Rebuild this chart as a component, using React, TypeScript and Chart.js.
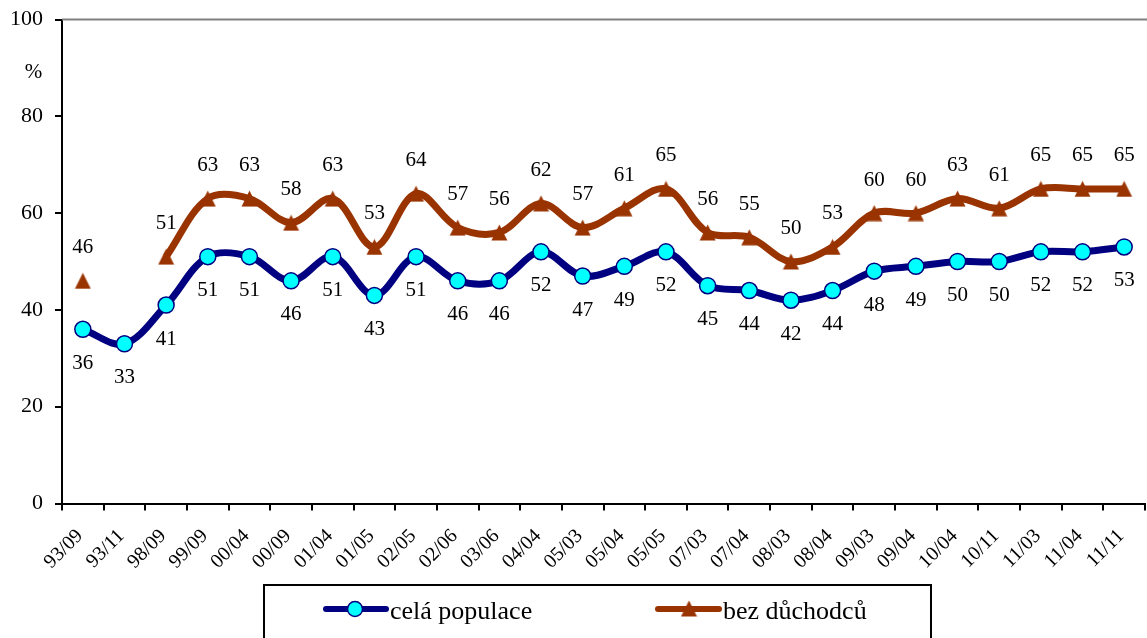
import React, { useEffect, useRef } from "react";
import { Chart, registerables } from "chart.js";

Chart.register(...registerables);

const categories = ["93/09", "93/11", "98/09", "99/09", "00/04", "00/09", "01/04", "01/05", "02/05", "02/06", "03/06", "04/04", "05/03", "05/04", "05/05", "07/03", "07/04", "08/03", "08/04", "09/03", "09/04", "10/04", "10/11", "11/03", "11/04", "11/11"];
const celaPopulace = [36, 33, 41, 51, 51, 46, 51, 43, 51, 46, 46, 52, 47, 49, 52, 45, 44, 42, 44, 48, 49, 50, 50, 52, 52, 53];
const bezDuchodcu: (number | null)[] = [46, null, 51, 63, 63, 58, 63, 53, 64, 57, 56, 62, 57, 61, 65, 56, 55, 50, 53, 60, 60, 63, 61, 65, 65, 65];
const seriesNames = ["celá populace", "bez důchodců"];
const yAxisUnit = "%";

const NAVY = "#000080";
const CYAN = "#00FFFF";
const BROWN = "#993300";
const SERIF = "'Liberation Serif', 'Times New Roman', serif";

function makeTriangle(size: number, color: string) {
  const c = document.createElement("canvas");
  c.width = size;
  c.height = size;
  const ctx = c.getContext("2d")!;
  ctx.fillStyle = color;
  ctx.beginPath();
  ctx.moveTo(size / 2, 0.5);
  ctx.lineTo(size - 0.5, size - 0.5);
  ctx.lineTo(0.5, size - 0.5);
  ctx.closePath();
  ctx.fill();
  return c;
}

export default function App() {
  const ref = useRef<HTMLCanvasElement | null>(null);

  useEffect(() => {
    if (!ref.current) return;
    const tri = makeTriangle(17, BROWN);

    const decorPlugin = {
      id: "decor",
      beforeDatasetsDraw(chart: any) {
        const { ctx, chartArea } = chart;
        ctx.save();
        ctx.strokeStyle = "#808080";
        ctx.lineWidth = 2;
        ctx.beginPath();
        ctx.moveTo(chartArea.left, chartArea.top);
        ctx.lineTo(chart.width, chartArea.top);
        ctx.stroke();
        ctx.fillStyle = "#000";
        ctx.font = `21px ${SERIF}`;
        ctx.textAlign = "center";
        ctx.textBaseline = "middle";
        ctx.fillText(yAxisUnit, 33.5, 72);
        ctx.restore();
      },
      afterDatasetsDraw(chart: any) {
        const { ctx } = chart;
        ctx.save();
        ctx.fillStyle = "#000";
        ctx.font = `21px ${SERIF}`;
        ctx.textAlign = "center";
        ctx.textBaseline = "middle";
        chart.data.datasets.forEach((ds: any, di: number) => {
          const meta = chart.getDatasetMeta(di);
          meta.data.forEach((pt: any, i: number) => {
            const v = ds.data[i];
            if (v === null || v === undefined) return;
            const dy = di === 0 ? 34 : -33;
            ctx.fillText(String(v), pt.x, pt.y + dy);
          });
        });
        ctx.restore();
      },
      afterDraw(chart: any) {
        const { ctx } = chart;
        ctx.save();
        ctx.strokeStyle = "#000";
        ctx.lineWidth = 2;
        ctx.strokeRect(264, 585, 667, 70);
        const ly = 609;
        ctx.lineCap = "round";
        ctx.strokeStyle = NAVY;
        ctx.lineWidth = 6;
        ctx.beginPath();
        ctx.moveTo(326, ly);
        ctx.lineTo(386, ly);
        ctx.stroke();
        ctx.beginPath();
        ctx.arc(355, ly, 7.5, 0, Math.PI * 2);
        ctx.fillStyle = CYAN;
        ctx.fill();
        ctx.lineWidth = 1.5;
        ctx.strokeStyle = NAVY;
        ctx.stroke();
        ctx.strokeStyle = BROWN;
        ctx.lineWidth = 6;
        ctx.beginPath();
        ctx.moveTo(658, ly);
        ctx.lineTo(719, ly);
        ctx.stroke();
        ctx.drawImage(tri, 689 - 8.5, ly - 9);
        ctx.fillStyle = "#000";
        ctx.font = `26px ${SERIF}`;
        ctx.textAlign = "left";
        ctx.textBaseline = "middle";
        ctx.fillText(seriesNames[0], 390, ly + 3);
        ctx.fillText(seriesNames[1], 723, ly + 3);
        ctx.restore();
      },
    };

    const chart = new Chart(ref.current, {
      type: "line",
      data: {
        labels: categories,
        datasets: [
          {
            label: seriesNames[0],
            data: celaPopulace,
            borderColor: NAVY,
            borderWidth: 7,
            backgroundColor: CYAN,
            pointBackgroundColor: CYAN,
            pointBorderColor: NAVY,
            pointBorderWidth: 1.5,
            pointRadius: 8,
            tension: 0.35,
            fill: false,
          },
          {
            label: seriesNames[1],
            data: bezDuchodcu,
            borderColor: BROWN,
            borderWidth: 7,
            backgroundColor: BROWN,
            pointStyle: tri as any,
            pointRadius: 8,
            tension: 0.35,
            spanGaps: false,
            fill: false,
          },
        ],
      },
      options: {
        responsive: false,
        animation: false,
        devicePixelRatio: 1,
        layout: { padding: { top: 19.5, right: 6, left: 0, bottom: 0 } },
        plugins: {
          legend: { display: false },
          tooltip: { enabled: false },
        },
        events: [],
        scales: {
          x: {
            type: "category",
            offset: true,
            grid: {
              offset: true,
              drawOnChartArea: false,
              drawTicks: true,
              tickLength: 7,
              color: "#000",
              lineWidth: 2,
            },
            border: { display: true, color: "#000", width: 2 },
            ticks: {
              autoSkip: false,
              minRotation: 45,
              maxRotation: 45,
              labelOffset: -3,
              padding: 14,
              color: "#000",
              font: { family: SERIF, size: 20 },
            },
            afterFit: (s: any) => {
              s.height = 134.5;
              s.paddingLeft = 0;
              s.paddingRight = 0;
            },
          },
          y: {
            type: "linear",
            min: 0,
            max: 100,
            grid: {
              drawOnChartArea: false,
              drawTicks: true,
              tickLength: 7,
              color: "#000",
              lineWidth: 2,
            },
            border: { display: true, color: "#000", width: 2 },
            ticks: {
              stepSize: 20,
              padding: 12,
              color: "#000",
              font: { family: SERIF, size: 22 },
            },
            afterFit: (s: any) => {
              s.width = 62;
              s.paddingTop = 0;
              s.paddingBottom = 0;
            },
          },
        },
      },
      plugins: [decorPlugin],
    });

    return () => chart.destroy();
  }, []);

  return (
    <div style={{ position: "fixed", left: 0, top: 0, width: 1147, height: 638, overflow: "hidden", background: "#fff" }}>
      <canvas ref={ref} width={1160} height={638} style={{ width: 1160, height: 638, display: "block" }} />
    </div>
  );
}
